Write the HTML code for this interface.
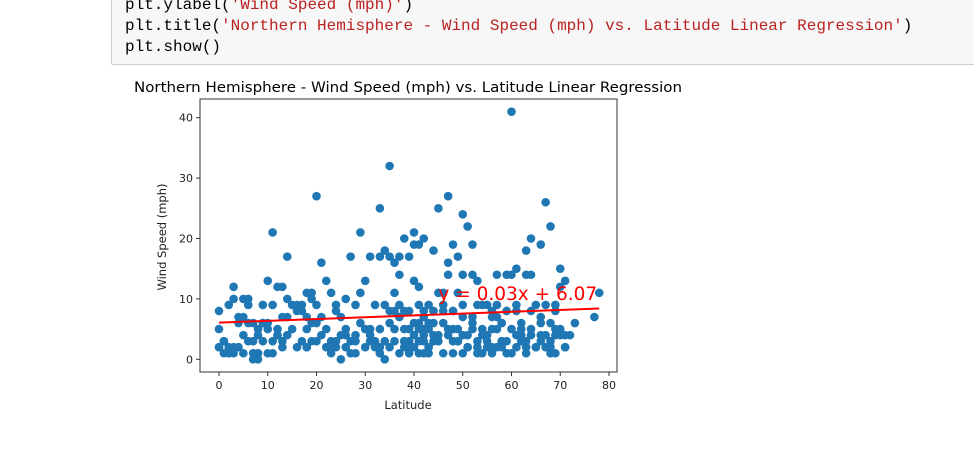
<!DOCTYPE html>
<html><head><meta charset="utf-8"><style>
body{margin:0;background:#fff;width:974px;height:453px;overflow:hidden;position:relative;font-family:"DejaVu Sans","Liberation Sans",sans-serif}
#cell{position:absolute;left:111px;top:-6px;width:870px;height:69px;background:#f7f7f7;border:1px solid #cfcfcf;border-radius:2px}
#cell pre{margin:0;position:absolute;left:13px;top:0;font-family:"Liberation Mono",monospace;font-size:16px;line-height:21px;color:#000}
.s{color:#ba2121}
</style></head><body>
<div id="cell"><pre>plt.ylabel(<span class="s">'Wind Speed (mph)'</span>)
plt.title(<span class="s">'Northern Hemisphere - Wind Speed (mph) vs. Latitude Linear Regression'</span>)
plt.show()</pre></div>
<svg id="chart" width="974" height="453" style="position:absolute;left:0;top:0"></svg>
<script>
const xTicks=[0,10,20,30,40,50,60,70,80];
const yTicks=[0,10,20,30,40];
const lat=[0,0,0,0,1,1,2,2,3,3,3,4,4,5,5,5,6,6,6,7,7,7,8,8,8,9,9,10,10,10,11,11,11,12,12,13,13,14,14,14,15,16,16,17,17,18,18,18,19,19,19,20,20,20,20,21,21,22,22,23,23,24,24,25,25,25,26,26,27,27,28,28,29,29,29,30,30,31,31,32,32,33,33,33,33,34,34,34,35,35,35,35,36,36,36,37,37,37,37,38,38,38,39,39,39,40,40,40,40,40,41,41,41,41,42,42,42,42,42,43,43,43,44,44,44,45,45,45,46,46,47,47,47,47,48,48,48,49,49,49,50,50,50,50,51,51,51,52,52,52,53,53,53,54,54,55,55,55,56,56,57,57,57,58,58,59,59,60,60,60,60,61,61,61,62,62,63,63,63,64,64,64,65,65,66,66,66,67,67,67,68,68,68,69,69,69,70,70,70,71,71,71,72,73,77,78,44,46,36,38,15,12,2,9,24,26,31,33,39,43,49,53,56,58,62,65,
1,2,4,5,6,7,8,9,10,11,12,13,14,16,17,18,19,21,22,23,24,26,27,28,30,31,32,34,36,37,38,39,40,41,41,42,43,44,45,46,47,48,49,50,51,52,54,55,56,57,58,59,61,62,63,64,66,67,68,69,70,71,3,8,13,18,23,28,33,38,43,48,53,58,63,68,35,37,39,41,42,44,46,48,50,52,54,56,57,59,61,64,66,69];
const wind=[2,5,8,2,1,3,1,9,12,2,10,6,2,7,10,1,3,9,10,1,6,0,5,1,0,9,3,13,6,1,21,9,1,12,5,12,3,17,10,7,9,2,9,3,8,5,11,2,3,10,11,27,6,9,3,16,7,2,13,3,11,8,2,0,7,4,10,5,17,1,9,4,21,11,6,2,13,5,17,3,9,25,17,5,1,18,9,0,32,17,6,2,16,11,3,14,17,7,1,20,8,3,17,5,1,21,13,19,6,2,12,5,19,1,20,8,4,1,3,6,2,9,18,3,6,25,11,4,8,1,27,16,14,5,19,8,3,17,11,5,24,14,7,1,22,4,2,19,14,5,13,9,3,5,1,9,4,2,5,1,14,7,2,3,6,14,1,41,14,5,1,15,8,2,3,5,18,14,2,20,14,4,9,2,19,6,3,26,4,9,22,6,2,1,9,4,15,12,5,13,4,2,4,6,7,11,8,11,8,3,5,4,1,6,9,2,3,1,2,5,3,1,2,3,4,2,
3,2,7,4,6,3,4,6,5,3,4,7,4,8,9,7,6,4,5,2,3,4,3,3,5,4,2,3,5,7,5,3,4,3,6,5,2,4,3,6,4,5,3,4,2,6,4,3,7,5,6,3,4,6,3,5,4,2,3,5,4,2,1,1,2,2,1,1,2,2,1,1,2,2,1,1,8,9,8,9,7,8,9,8,9,7,9,8,9,8,9,8,7,8];
const slope=0.03,intercept=6.07;
const NS='http://www.w3.org/2000/svg',svg=document.getElementById('chart');
const X0=200,X1=617,Y0=99,Y1=372;
function xs(v){return 219+v*4.875;}
function ys(v){return 359.3-v*6.04;}
function mk(t,a,p){const e=document.createElementNS(NS,t);for(const k in a)e.setAttribute(k,a[k]);(p||svg).appendChild(e);return e;}
let t=mk('text',{x:134,y:92,'font-size':14,fill:'#000',textLength:548,lengthAdjust:'spacingAndGlyphs'});t.textContent='Northern Hemisphere - Wind Speed (mph) vs. Latitude Linear Regression';


const pts=mk('g',{fill:'#1f77b4'});


for(let i=0;i<lat.length;i++){const c=mk('circle',{cx:xs(lat[i]),cy:ys(wind[i]),r:4.3},pts);

}
const ln=mk('line',{x1:xs(0),y1:ys(intercept),x2:xs(78),y2:ys(intercept+slope*78),stroke:'#ff0000','stroke-width':2});


t=mk('text',{x:xs(45),y:ys(10)+1,'font-size':18.5,fill:'#ff0000'});t.textContent='y = 0.03x + 6.07';


const fr=mk('rect',{x:X0,y:Y0,width:X1-X0,height:Y1-Y0,fill:'none',stroke:'#333','stroke-width':1});


xTicks.forEach(v=>{mk('line',{x1:xs(v),x2:xs(v),y1:Y1,y2:Y1+4,stroke:'#333'});
const tx=mk('text',{x:xs(v),y:Y1+17,'font-size':11,'text-anchor':'middle',fill:'#222'});tx.textContent=v;

});
yTicks.forEach(v=>{mk('line',{x1:X0-4,x2:X0,y1:ys(v),y2:ys(v),stroke:'#333'});
const tx=mk('text',{x:X0-7,y:ys(v)+4,'font-size':11,'text-anchor':'end',fill:'#222'});tx.textContent=v;

});
t=mk('text',{x:408,y:409,'font-size':11.5,'text-anchor':'middle',fill:'#222'});t.textContent='Latitude';


t=mk('text',{x:0,y:0,'font-size':11.5,'text-anchor':'middle',fill:'#222',transform:'translate(166,237) rotate(-90)'});t.textContent='Wind Speed (mph)';


</script>
</body></html>
